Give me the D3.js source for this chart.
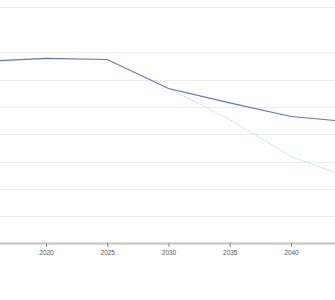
<!DOCTYPE html>
<html>
<head>
<meta charset="utf-8">
<script src="https://cdn.jsdelivr.net/npm/d3@7"></script>
<style>
  body { margin: 0; background: #fff; }
  svg { display: block; font-family: "Open Sans", sans-serif; }
</style>
</head>
<body>
<script>
// Width and height
var w = 335;
var h = 300;

// data
var years = [2015, 2020, 2025, 2030, 2035, 2040, 2045];
var mainValues = [6.67, 6.78, 6.74, 5.68, 5.15, 4.65, 4.45];
var altYears = [2030, 2035, 2040, 2045];
var altValues = [5.68, 4.54, 3.19, 2.36];
var tickYears = [2020, 2025, 2030, 2035, 2040];
var gridValues = [1, 2, 3, 4, 5, 6, 7, 8.68];

var svg = d3.select("body")
    .append("svg")
    .attr("width", w)
    .attr("height", h);

var x = d3.scaleLinear().domain([2020, 2040]).range([46, 291]);
var y = d3.scaleLinear().domain([0, 8.68]).range([243.5, 6.5]);

// gridlines
svg.append("g").selectAll("line")
    .data(gridValues)
    .enter()
    .append("line")
    .attr("x1", 0)
    .attr("x2", w)
    .attr("y1", function (d) { return Math.round(y(d)) + 0.5; })
    .attr("y2", function (d) { return Math.round(y(d)) + 0.5; })
    .style("stroke", "#ececec")
    .style("stroke-width", 1);

// x axis
var xAxis = d3.axisBottom(x)
    .tickValues(tickYears)
    .tickFormat(d3.format("d"))
    .tickSize(4)
    .tickPadding(3);

var ax = svg.append("g")
    .attr("transform", "translate(0," + 243 + ")")
    .call(xAxis);
ax.select(".domain").remove();
ax.selectAll(".tick line").style("stroke", "#888");
ax.selectAll(".tick text")
    .style("font-size", "6.5px")
    .style("fill", "#555");
ax.insert("line", ":first-child")
    .attr("x1", 0)
    .attr("x2", w)
    .attr("y1", 0.5)
    .attr("y2", 0.5)
    .style("stroke", "#c2c2c2")
    .style("stroke-width", 2);

var line = d3.line()
    .x(function (d) { return x(d[0]); })
    .y(function (d) { return y(d[1]); });

// alternative scenario (dotted)
svg.append("path")
    .datum(d3.zip(altYears, altValues))
    .attr("d", line)
    .style("fill", "none")
    .style("stroke", "#8fcde0")
    .style("stroke-width", 0.9)
    .style("stroke-dasharray", "1,1.2");

// main series
svg.append("path")
    .datum(d3.zip(years, mainValues))
    .attr("d", line)
    .style("fill", "none")
    .style("stroke", "#6174b8")
    .style("stroke-width", 1.1);
</script>
</body>
</html>
